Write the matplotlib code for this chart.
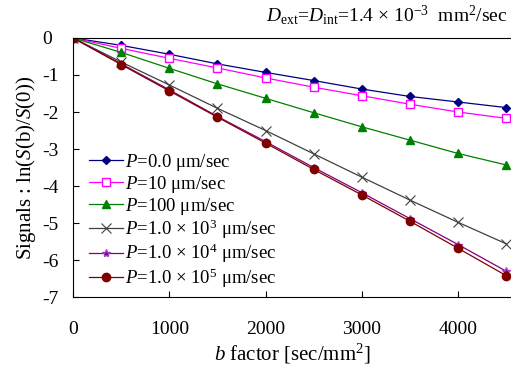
import numpy as np
import matplotlib
matplotlib.use("Agg")
import matplotlib.pyplot as plt

plt.rcParams['font.family'] = ['Liberation Serif', 'DejaVu Serif']
plt.rcParams['mathtext.fontset'] = 'custom'
plt.rcParams['mathtext.rm'] = 'Liberation Serif'
plt.rcParams['mathtext.it'] = 'Liberation Serif:italic'
plt.rcParams['axes.unicode_minus'] = False

b = [0, 500, 1000, 1500, 2000, 2500, 3000, 3500, 4000, 4500]
p0 = [0, -0.20, -0.44, -0.70, -0.93, -1.15, -1.38, -1.58, -1.73, -1.88]
p10 = [0, -0.28, -0.55, -0.81, -1.08, -1.33, -1.56, -1.79, -2.00, -2.17]
p100 = [0, -0.39, -0.82, -1.24, -1.63, -2.02, -2.40, -2.76, -3.12, -3.43]
p1e3 = [0, -0.65, -1.27, -1.90, -2.50, -3.13, -3.76, -4.38, -4.98, -5.56]
p1e4 = [0, -0.70, -1.40, -2.12, -2.80, -3.50, -4.18, -4.88, -5.58, -6.30]
p1e5 = [0, -0.72, -1.43, -2.14, -2.84, -3.55, -4.24, -4.95, -5.68, -6.42]

labels = [r'$P$=0.0 $\mathrm{\mu}$m/sec',
          r'$P$=10 $\mathrm{\mu}$m/sec',
          r'$P$=100 $\mathrm{\mu}$m/sec',
          r'$P$=1.0 $\times$ 10$^3$ $\mathrm{\mu}$m/sec',
          r'$P$=1.0 $\times$ 10$^4$ $\mathrm{\mu}$m/sec',
          r'$P$=1.0 $\times$ 10$^5$ $\mathrm{\mu}$m/sec']

fig = plt.figure(figsize=(5.11, 3.65), dpi=100)
ax = fig.add_axes([0.143, 0.186, 0.857, 0.710])

ax.plot(b, p0, c='#000080', lw=0.9, marker='D', ms=4, label=labels[0])
ax.plot(b, p10, c='#ff00ff', lw=0.9, marker='s', ms=6, mfc='white', mew=1, label=labels[1])
ax.plot(b, p100, c='#008000', lw=0.9, marker='^', ms=6, label=labels[2])
ax.plot(b, p1e3, c='#404040', lw=0.9, marker='x', ms=7, mew=0.8, label=labels[3])
ax.plot(b, p1e4, c='#800080', lw=0.9, marker='*', ms=6, mec='#a040c0', label=labels[4])
ax.plot(b, p1e5, c='#800000', lw=0.9, marker='o', ms=6, label=labels[5])

ax.set_xlim(0, 4550)
ax.set_ylim(-7, 0)
ax.set_xticks([0, 1000, 2000, 3000, 4000])
ax.set_yticks(range(-7, 1))
ax.tick_params(direction='in', labelsize=14, length=4)
ax.tick_params(axis='x', pad=17)
ax.tick_params(axis='y', pad=22)
for t in ax.get_yticklabels():
    t.set_horizontalalignment('left')
ax.spines['right'].set_visible(False)

ax.set_xlabel(r'$b$ factor [sec/mm$^2$]', fontsize=15, labelpad=3)
ax.set_ylabel(r'Signals : ln($S$(b)/$S$(0))', fontsize=15, labelpad=3)

fig.text(0.993, 0.958, r'$D_{\mathrm{ext}}$=$D_{\mathrm{int}}$=1.4 $\times$ 10$^{-3}$  mm$^2$/sec',
         ha='right', va='center', fontsize=14)

ax.legend(loc='lower left', frameon=False, fontsize=13.5, handlelength=1.8,
          handletextpad=0.1, labelspacing=0.05, borderaxespad=0.0,
          bbox_to_anchor=(0.02, 0.0))

fig.savefig('out.png', dpi=100)
